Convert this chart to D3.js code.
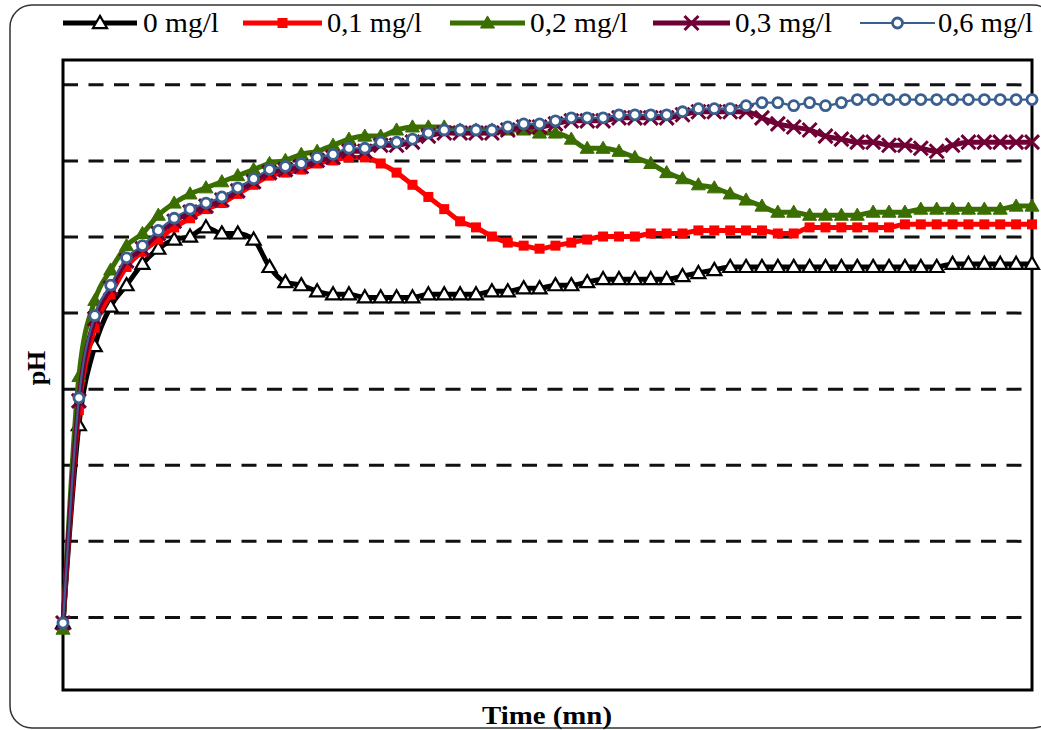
<!DOCTYPE html>
<html>
<head>
<meta charset="utf-8">
<script src="https://cdnjs.cloudflare.com/ajax/libs/d3/7.8.5/d3.min.js"></script>
<style>
  body { margin: 0; background: #fff; }
  svg { display: block; }
</style>
</head>
<body>
<div id="chart"></div>
<script>
// time in minutes
const times = [0, 1, 2, 3, 4, 5, 6, 7, 8, 9, 10, 11, 12, 13, 14, 15, 16, 17, 18, 19, 20,
  21, 22, 23, 24, 25, 26, 27, 28, 29, 30, 31, 32, 33, 34, 35, 36, 37, 38, 39, 40,
  41, 42, 43, 44, 45, 46, 47, 48, 49, 50, 51, 52, 53, 54, 55, 56, 57, 58, 59, 60, 61];

// pH values per dose
const ph0 = [7.23, 7.88, 8.14, 8.27, 8.34, 8.41, 8.46, 8.49, 8.50, 8.53, 8.51, 8.51, 8.49, 8.40, 8.35,
  8.34, 8.32, 8.31, 8.31, 8.30, 8.30, 8.30, 8.30, 8.31, 8.31, 8.31, 8.31, 8.32, 8.32, 8.33, 8.33,
  8.34, 8.34, 8.35, 8.36, 8.36, 8.36, 8.36, 8.36, 8.37, 8.38, 8.39, 8.40, 8.40, 8.40, 8.40, 8.40,
  8.40, 8.40, 8.40, 8.40, 8.40, 8.40, 8.40, 8.40, 8.40, 8.41, 8.41, 8.41, 8.41, 8.41, 8.41];
const ph01 = [7.23, 7.93, 8.20, 8.31, 8.40, 8.45, 8.49, 8.53, 8.56, 8.59, 8.61, 8.64, 8.67, 8.70, 8.71,
  8.72, 8.74, 8.75, 8.76, 8.76, 8.74, 8.71, 8.67, 8.63, 8.59, 8.55, 8.53, 8.50, 8.48, 8.47, 8.46,
  8.47, 8.48, 8.49, 8.50, 8.50, 8.50, 8.51, 8.51, 8.51, 8.52, 8.52, 8.52, 8.52, 8.52, 8.51, 8.51,
  8.53, 8.53, 8.53, 8.53, 8.53, 8.53, 8.54, 8.54, 8.54, 8.54, 8.54, 8.54, 8.54, 8.54, 8.54];
const ph02 = [7.21, 8.04, 8.29, 8.39, 8.47, 8.51, 8.57, 8.61, 8.64, 8.66, 8.68, 8.70, 8.72, 8.74, 8.75,
  8.77, 8.78, 8.80, 8.82, 8.83, 8.83, 8.85, 8.86, 8.86, 8.86, 8.85, 8.85, 8.85, 8.85, 8.85, 8.84,
  8.84, 8.82, 8.79, 8.79, 8.78, 8.76, 8.74, 8.71, 8.69, 8.67, 8.66, 8.64, 8.62, 8.60, 8.58, 8.58,
  8.57, 8.57, 8.57, 8.57, 8.58, 8.58, 8.58, 8.59, 8.59, 8.59, 8.59, 8.59, 8.59, 8.60, 8.60];
const ph03 = [7.23, 7.96, 8.23, 8.33, 8.42, 8.46, 8.51, 8.55, 8.58, 8.60, 8.62, 8.65, 8.68, 8.71, 8.72,
  8.73, 8.75, 8.76, 8.78, 8.78, 8.80, 8.80, 8.81, 8.83, 8.84, 8.84, 8.84, 8.84, 8.85, 8.86, 8.86,
  8.87, 8.88, 8.88, 8.88, 8.89, 8.89, 8.89, 8.89, 8.90, 8.91, 8.91, 8.91, 8.91, 8.89, 8.87, 8.86,
  8.85, 8.83, 8.82, 8.81, 8.81, 8.80, 8.80, 8.79, 8.78, 8.80, 8.81, 8.81, 8.81, 8.81, 8.81];
const ph06 = [7.23, 7.97, 8.24, 8.34, 8.43, 8.47, 8.52, 8.56, 8.59, 8.61, 8.63, 8.66, 8.69, 8.72, 8.73,
  8.74, 8.76, 8.77, 8.79, 8.79, 8.81, 8.81, 8.82, 8.84, 8.85, 8.85, 8.85, 8.85, 8.86, 8.87, 8.87,
  8.88, 8.89, 8.89, 8.89, 8.90, 8.90, 8.90, 8.90, 8.91, 8.92, 8.92, 8.92, 8.93, 8.94, 8.94, 8.93,
  8.94, 8.93, 8.94, 8.95, 8.95, 8.95, 8.95, 8.95, 8.95, 8.95, 8.95, 8.95, 8.95, 8.95, 8.95];

const seriesNames = ['0 mg/l', '0,1 mg/l', '0,2 mg/l', '0,3 mg/l', '0,6 mg/l'];
const yGrid = [7.25, 7.5, 7.75, 8.0, 8.25, 8.5, 8.75, 9.0];

const series = [
  { name: seriesNames[0], values: ph0, color: '#000000', width: 5, marker: 'triangle-open' },
  { name: seriesNames[1], values: ph01, color: '#ff0000', width: 5, marker: 'square' },
  { name: seriesNames[2], values: ph02, color: '#3b6e00', width: 5, marker: 'triangle' },
  { name: seriesNames[3], values: ph03, color: '#6e0034', width: 5, marker: 'x' },
  { name: seriesNames[4], values: ph06, color: '#3a5f8f', width: 2.2, marker: 'circle' }
];

const W = 1041, H = 730;
const plot = { left: 63, right: 1032, top: 60, bottom: 690 };

const svg = d3.select('#chart').append('svg')
  .attr('width', W)
  .attr('height', H);

svg.append('rect')
  .attr('width', W).attr('height', H)
  .attr('fill', '#fff');

// outer rounded frame
svg.append('rect')
  .attr('x', 10).attr('y', 5)
  .attr('width', 1045).attr('height', 723)
  .attr('rx', 22)
  .attr('fill', 'none')
  .attr('stroke', '#333')
  .attr('stroke-width', 1.5);

const x = d3.scaleLinear().domain([0, 61]).range([plot.left, plot.right]);
const y = d3.scaleLinear().domain([7.01, 9.08]).range([plot.bottom, plot.top]);

// dashed gridlines
svg.append('g')
  .attr('transform', `translate(${plot.left},0)`)
  .call(d3.axisLeft(y).tickValues(yGrid).tickSize(-(plot.right - plot.left)).tickFormat(''))
  .call(g => g.select('.domain').remove())
  .call(g => g.selectAll('.tick line')
    .attr('stroke', '#111')
    .attr('stroke-width', 3)
    .attr('stroke-dasharray', '15,10.5'));

// plot frame
svg.append('rect')
  .attr('x', plot.left).attr('y', plot.top)
  .attr('width', plot.right - plot.left)
  .attr('height', plot.bottom - plot.top)
  .attr('fill', 'none')
  .attr('stroke', '#000')
  .attr('stroke-width', 3);

const line = d3.line()
  .x((d, i) => x(times[i]))
  .y(d => y(d))
  .curve(d3.curveMonotoneX);

function drawMarker(g, type, color) {
  if (type === 'triangle' || type === 'triangle-open') {
    g.append('path')
      .attr('d', d3.symbol(d3.symbolTriangle, 85)())
      .attr('transform', 'translate(0,1)')
      .attr('fill', type === 'triangle' ? color : '#fff')
      .attr('stroke', color)
      .attr('stroke-width', type === 'triangle' ? 1 : 2.2);
  } else if (type === 'square') {
    g.append('rect')
      .attr('x', -5).attr('y', -5)
      .attr('width', 10).attr('height', 10)
      .attr('fill', color);
  } else if (type === 'x') {
    g.append('path')
      .attr('d', 'M-7,-7L7,7M-7,7L7,-7')
      .attr('stroke', color)
      .attr('stroke-width', 3);
  } else if (type === 'circle') {
    g.append('circle')
      .attr('r', 5)
      .attr('fill', '#fff')
      .attr('stroke', color)
      .attr('stroke-width', 2.8);
  }
}

series.forEach(s => {
  svg.append('path')
    .datum(s.values)
    .attr('fill', 'none')
    .attr('stroke', s.color)
    .attr('stroke-width', s.width)
    .attr('stroke-linejoin', 'round')
    .attr('d', line);

  svg.append('g')
    .selectAll('g')
    .data(s.values)
    .enter()
    .append('g')
    .attr('transform', (d, i) => `translate(${x(times[i])},${y(d)})`)
    .each(function() { drawMarker(d3.select(this), s.marker, s.color); });
});

// legend
const legendItems = [
  { x1: 63, x2: 137, tx: 143, tw: 76 },
  { x1: 243, x2: 322, tx: 327, tw: 95 },
  { x1: 450, x2: 525, tx: 530, tw: 98 },
  { x1: 653, x2: 730, tx: 735, tw: 97 },
  { x1: 860, x2: 935, tx: 938, tw: 95 }
];
const legendY = 23;

series.forEach((s, i) => {
  const it = legendItems[i];
  const lg = svg.append('g');
  lg.append('line')
    .attr('x1', it.x1).attr('x2', it.x2)
    .attr('y1', legendY).attr('y2', legendY)
    .attr('stroke', s.color)
    .attr('stroke-width', s.width);
  const m = lg.append('g')
    .attr('transform', `translate(${(it.x1 + it.x2) / 2},${legendY})`);
  drawMarker(m, s.marker, s.color);
  lg.append('text')
    .attr('x', it.tx)
    .attr('y', legendY + 9)
    .attr('textLength', it.tw)
    .attr('lengthAdjust', 'spacingAndGlyphs')
    .style('font-family', '"Liberation Serif", "Times New Roman", serif')
    .style('font-size', '27px')
    .style('fill', '#000')
    .text(s.name);
});

// axis titles
svg.append('text')
  .attr('x', 482)
  .attr('y', 724)
  .attr('textLength', 130)
  .attr('lengthAdjust', 'spacingAndGlyphs')
  .style('font-family', '"Liberation Serif", "Times New Roman", serif')
  .style('font-size', '25px')
  .style('font-weight', 'bold')
  .text('Time (mn)');

svg.append('text')
  .attr('transform', 'translate(45,368) rotate(-90)')
  .style('text-anchor', 'middle')
  .style('font-family', '"Liberation Serif", "Times New Roman", serif')
  .style('font-size', '26px')
  .style('font-weight', 'bold')
  .text('pH');
</script>
</body>
</html>
